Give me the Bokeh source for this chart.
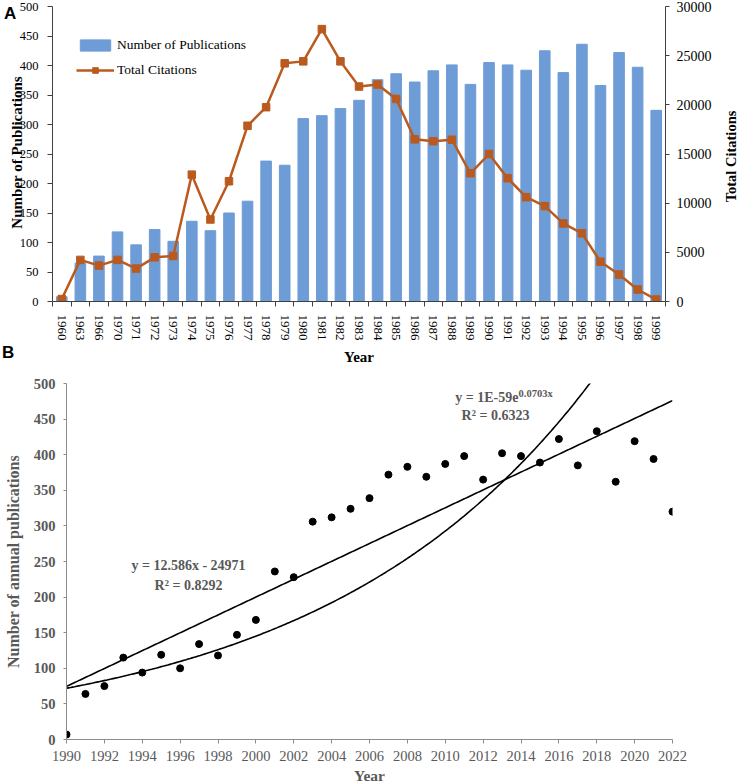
import numpy as np
from bokeh.plotting import figure
from bokeh.models import (Range1d, LinearAxis, FixedTicker, SingleIntervalTicker,
                          Legend, LegendItem, Label, Div)
from bokeh.embed import file_html
from bokeh.resources import INLINE

# ---------------- data ----------------
years_a = ["1960", "1963", "1966", "1970", "1971", "1972", "1973", "1974", "1975",
           "1976", "1977", "1978", "1979", "1980", "1981", "1982", "1983", "1984",
           "1985", "1986", "1987", "1988", "1989", "1990", "1991", "1992", "1993",
           "1994", "1995", "1996", "1997", "1998", "1999"]
publications_a = [8, 65, 77, 118, 96, 122, 102, 136, 120, 150, 170, 238, 231,
                  310, 315, 327, 341, 376, 386, 372, 391, 401, 368,
                  405, 401, 392, 425, 388, 436, 366, 422, 397, 324]
citations_a = [250, 4230, 3650, 4230, 3350, 4490, 4630, 12900, 8340, 12230, 17870,
               19760, 24220, 24420, 27700, 24420, 21860, 22060, 20600, 16490, 16300,
               16450, 13040, 15000, 12540, 10610, 9700, 7940, 6930, 4050, 2740, 1220, 200]

years_b = list(range(1990, 2023))
publications_b = [7, 64, 75, 115, 94, 119, 100, 134, 118, 147,
                  168, 236, 228, 306, 312, 324, 339, 372, 383, 369,
                  387, 398, 365, 402, 398, 389, 422, 385, 433, 362,
                  419, 394, 320]

SERIF = "Liberation Serif"
SANS = "Liberation Sans"
BAR = "#6E9CD7"
LINE = "#BA5A1E"
GRAY = "#595959"
AX = "#404040"

# ---------------- panel A ----------------
n = len(years_a)
xs = list(range(n))
p1 = figure(frame_width=613, frame_height=295,
            x_range=Range1d(-0.5, n - 0.5), y_range=Range1d(0, 500),
            output_backend="svg", toolbar_location=None,
            min_border_left=52, min_border_right=74, min_border_top=6, min_border_bottom=58)
p1.extra_y_ranges = {"cit": Range1d(0, 30000)}
p1.grid.visible = False
p1.outline_line_color = None

bars = p1.vbar(x=xs, top=publications_a, width=0.57, color=BAR)
ln = p1.line(xs, citations_a, y_range_name="cit", line_width=2.5, color=LINE)
sq = p1.scatter(xs, citations_a, y_range_name="cit", marker="square", size=7.5, color=LINE)

xa = p1.below[0]
xa.ticker = FixedTicker(ticks=xs, minor_ticks=[i - 0.5 for i in range(n + 1)])
xa.major_label_overrides = {i: y for i, y in zip(xs, years_a)}
xa.major_label_orientation = "vertical"
xa.major_tick_in = 0
xa.major_tick_out = 0
xa.minor_tick_in = 0
xa.minor_tick_out = 5
xa.minor_tick_line_color = AX
xa.axis_line_color = AX
xa.major_label_standoff = 8
xa.major_label_text_font = SERIF
xa.major_label_text_font_size = "13px"
xa.major_label_text_color = "black"
xa.axis_label = "Year"
xa.axis_label_text_font = SERIF
xa.axis_label_text_font_style = "bold"
xa.axis_label_text_font_size = "15px"
xa.axis_label_text_color = "black"
xa.axis_label_standoff = 5

ya = p1.left[0]
ya.ticker = SingleIntervalTicker(interval=50)
ya.major_tick_in = 0
ya.major_tick_out = 5
ya.minor_tick_line_color = None
ya.axis_line_color = AX
ya.major_tick_line_color = AX
ya.major_label_standoff = 9
ya.major_label_text_font = SERIF
ya.major_label_text_font_size = "12.5px"
ya.major_label_text_color = "black"

ra = LinearAxis(y_range_name="cit", ticker=SingleIntervalTicker(interval=5000))
ra.major_tick_in = 0
ra.major_tick_out = 4
ra.minor_tick_line_color = None
ra.axis_line_color = AX
ra.major_tick_line_color = AX
ra.major_label_standoff = 7
ra.major_label_text_font = SERIF
ra.major_label_text_font_size = "14px"
ra.major_label_text_color = "black"
p1.add_layout(ra, "right")

legend = Legend(items=[LegendItem(label="Number of Publications", renderers=[bars]),
                       LegendItem(label="Total Citations", renderers=[ln, sq])],
                location=(24, 223))
legend.glyph_width = 38
legend.glyph_height = 14
legend.label_standoff = 3
legend.spacing = 9
legend.padding = 0
legend.margin = 0
legend.border_line_color = None
legend.background_fill_alpha = 0
legend.label_text_font = SERIF
legend.label_text_font_size = "13.5px"
legend.label_text_color = "black"
p1.add_layout(legend)

# ---------------- panel B ----------------
p2 = figure(frame_width=606, frame_height=356,
            x_range=Range1d(1990, 2022), y_range=Range1d(0, 500),
            output_backend="svg", toolbar_location=None,
            min_border_left=66, min_border_right=67, min_border_top=16, min_border_bottom=49)
p2.grid.visible = False
p2.outline_line_color = None

lin = np.polyfit(years_b, publications_b, 1)
expc = np.polyfit(years_b, np.log(publications_b), 1)
xfit = np.linspace(years_b[0], years_b[-1], 300)
p2.line(xfit, np.polyval(lin, xfit), color="black", line_width=1.6)
p2.line(xfit, np.exp(np.polyval(expc, xfit)), color="black", line_width=1.6)
p2.scatter(years_b, publications_b, size=7, color="black")

bx = p2.below[0]
bx.ticker = SingleIntervalTicker(interval=2)
bx.major_tick_in = 0
bx.major_tick_out = 4
bx.minor_tick_line_color = None
bx.axis_line_color = "#8c8c8c"
bx.major_tick_line_color = "#8c8c8c"
bx.major_label_standoff = 7
bx.major_label_text_font = SERIF
bx.major_label_text_font_size = "14.5px"
bx.major_label_text_color = GRAY
bx.axis_label = "Year"
bx.axis_label_text_font = SERIF
bx.axis_label_text_font_style = "bold"
bx.axis_label_text_font_size = "15.5px"
bx.axis_label_text_color = GRAY
bx.axis_label_standoff = 3

by = p2.left[0]
by.ticker = SingleIntervalTicker(interval=50)
by.major_tick_in = 0
by.major_tick_out = 3
by.minor_tick_line_color = None
by.axis_line_color = "#8c8c8c"
by.major_tick_line_color = "#8c8c8c"
by.major_label_standoff = 7
by.major_label_text_font = SERIF
by.major_label_text_font_style = "bold"
by.major_label_text_font_size = "14.5px"
by.major_label_text_color = GRAY
by.axis_label = "Number of annual publications"
by.axis_label_text_font = SERIF
by.axis_label_text_font_style = "bold"
by.axis_label_text_font_size = "16px"
by.axis_label_text_color = GRAY
by.axis_label_standoff = 9

def lab(text, x, y, size="14px", align="center"):
    p2.add_layout(Label(x=x, y=y, x_units="screen", y_units="screen", text=text,
                        text_align=align, text_baseline="middle", text_font=SERIF,
                        text_font_style="bold", text_font_size=size, text_color=GRAY))

lab("y = 12.586x - 24971", 122, 174)
lab("R\u00b2 = 0.8292", 122, 154)
lab("y = 1E-59e", 452, 342, align="right")
lab("0.0703x", 452, 346, size="10.5px", align="left")
lab("R\u00b2 = 0.6323", 429, 324)

# ---------------- texts outside the plot frames ----------------
panel_font = {"position": "absolute", "margin": "0", "padding": "0",
              "font-family": "'Liberation Sans'", "font-weight": "bold",
              "font-size": "17px", "line-height": "17px", "color": "black",
              "z-index": "10"}

def vtitle(text, cx, cy, w, size):
    return Div(text=text,
               styles={"position": "absolute", "margin": "0", "padding": "0",
                       "left": f"{cx - w / 2}px", "top": f"{cy - 8.5}px",
                       "width": f"{w}px", "height": "17px",
                       "text-align": "center", "white-space": "nowrap",
                       "font-family": "'Liberation Serif'", "font-weight": "bold",
                       "font-size": size, "line-height": "17px", "color": "black",
                       "transform": "rotate(-90deg)", "transform-origin": "50% 50%",
                       "z-index": "10"})

divA = Div(text="A", styles=dict(panel_font, left="4px", top="5px"))
divB = Div(text="B", styles=dict(panel_font, left="2px", top="344px"))
divL = vtitle("Number of Publications", 17, 152, 180, "15px")
divR = vtitle("Total Citations", 731, 156, 110, "14.5px")

# separate roots (no frame alignment between the two panels)
open("out.html", "w").write(file_html([divA, divB, divL, divR, p1, p2], INLINE))
